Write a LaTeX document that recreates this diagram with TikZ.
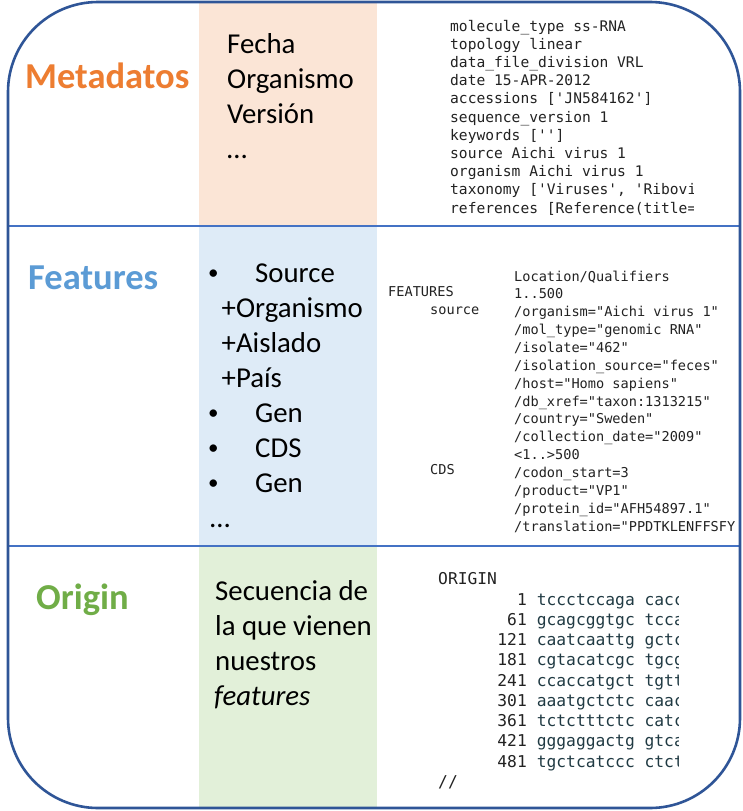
\documentclass[tikz,border=0pt]{standalone}
\usepackage{fontspec}
\setmainfont{Carlito}
\setmonofont{DejaVu Sans Mono}
\definecolor{outerblue}{HTML}{2F5597}
\definecolor{divblue}{HTML}{4472C4}
\definecolor{peach}{HTML}{FBE5D6}
\definecolor{paleblue}{HTML}{DEEBF7}
\definecolor{palegreen}{HTML}{E2F0D9}
\definecolor{lorange}{HTML}{ED7D31}
\definecolor{lblue}{HTML}{5B9BD5}
\definecolor{lgreen}{HTML}{70AD47}
\definecolor{seqcol}{HTML}{203A43}
\definecolor{monotext}{HTML}{222222}
\begin{document}
\begin{tikzpicture}[x=1pt,y=-1pt,
  lbl/.style={font=\bfseries\fontsize{36.5}{40}\selectfont, anchor=base west, inner sep=0},
  body/.style={font=\fontsize{28.8}{35}\selectfont, anchor=base west, inner sep=0},
  bul/.style={font=\fontsize{21}{25}\selectfont, anchor=base west, inner sep=0},
  monoA/.style={font=\ttfamily\fontsize{14.6}{18}\selectfont, text=monotext, anchor=base west, inner sep=0},
  monoB/.style={font=\ttfamily\fontsize{13.6}{17}\selectfont, text=monotext, anchor=base west, inner sep=0},
  monoC/.style={font=\ttfamily\fontsize{16.28}{20}\selectfont, text=monotext, anchor=base west, inner sep=0},
  seqC/.style={monoC, text=seqcol},
  numC/.style={monoC, anchor=base east},
  divider/.style={draw=divblue, line width=2.6pt},
  outer/.style={draw=outerblue, line width=2.6pt, rounded corners=90pt}]
\useasboundingbox (0,0) rectangle (743,811);
\fill[white] (0,0) rectangle (743,811);
% column fills
\fill[peach] (199,3) rectangle (377,226);
\fill[paleblue] (199,226) rectangle (377,546);
\fill[palegreen] (199,546) rectangle (377,807);
% dividers
\draw[divider] (8,226) -- (740,226);
\draw[divider] (8,546) -- (740,546);
% outer frame
\draw[outer] (8,2) rectangle (740,808);

% section labels
\node[lbl, text=lorange] (lmeta) at (25,88.5) {Metadatos};
\node[lbl, text=lblue] (lfeat) at (28,289) {Features};
\node[lbl, text=lgreen] (lorig) at (36,609) {Origin};

% metadata column
\node[body] (m1) at (227,53.5) {Fecha};
\node[body] (m2) at (227,88.5) {Organismo};
\node[body] (m3) at (227,123.5) {Versión};
\node[body] (m4) at (227,158.5) {…};

% features column
\node[bul] (b1) at (207.8,279.5) {•};
\node[body] (f1) at (255,282) {Source};
\node[body] (f2) at (221.5,317) {+Organismo};
\node[body] (f3) at (221.5,352) {+Aislado};
\node[body] (f4) at (221.5,387) {+País};
\node[bul] (b2) at (207.8,419.5) {•};
\node[body] (f5) at (255,422) {Gen};
\node[bul] (b3) at (207.8,454.5) {•};
\node[body] (f6) at (255,457) {CDS};
\node[bul] (b4) at (207.8,489.5) {•};
\node[body] (f7) at (255,492) {Gen};
\node[body] (f8) at (210,527) {…};

% origin column
\node[body] (o1) at (215,600) {Secuencia de};
\node[body] (o2) at (215,635) {la que vienen};
\node[body] (o3) at (215,670) {nuestros};
\node[body] (o4) at (214,705) {\itshape features};

% metadata record
\begin{scope}
\clip (380,0) rectangle (693,226);
\node[monoA] (r1) at (450,31) {molecule\_type ss-RNA};
\node[monoA] (r2) at (450,49.2) {topology linear};
\node[monoA] (r3) at (450,67.4) {data\_file\_division VRL};
\node[monoA] (r4) at (450,85.6) {date 15-APR-2012};
\node[monoA] (r5) at (450,103.8) {accessions ['JN584162']};
\node[monoA] (r6) at (450,122) {sequence\_version 1};
\node[monoA] (r7) at (450,140.2) {keywords ['']};
\node[monoA] (r8) at (450,158.4) {source Aichi virus 1};
\node[monoA] (r9) at (450,176.6) {organism Aichi virus 1};
\node[monoA] (r10) at (450,194.8) {taxonomy ['Viruses', 'Riboviria']};
\node[monoA] (r11) at (450,213) {references [Reference(title=};
\end{scope}

% features record
\begin{scope}
\clip (380,228) rectangle (739,545);
\node[monoB] (k1) at (388,296) {FEATURES};
\node[monoB] (k2) at (430,314) {source};
\node[monoB] (k3) at (430,474) {CDS};
\node[monoB] (q0) at (514,281) {Location/Qualifiers};
\node[monoB] (q1) at (514,298.86) {1..500};
\node[monoB] (q2) at (514,316.72) {/organism="Aichi virus 1"};
\node[monoB] (q3) at (514,334.58) {/mol\_type="genomic RNA"};
\node[monoB] (q4) at (514,352.44) {/isolate="462"};
\node[monoB] (q5) at (514,370.3) {/isolation\_source="feces"};
\node[monoB] (q6) at (514,388.16) {/host="Homo sapiens"};
\node[monoB] (q7) at (514,406.02) {/db\_xref="taxon:1313215"};
\node[monoB] (q8) at (514,423.88) {/country="Sweden"};
\node[monoB] (q9) at (514,441.74) {/collection\_date="2009"};
\node[monoB] (q10) at (514,459.6) {<1..>500};
\node[monoB] (q11) at (514,477.46) {/codon\_start=3};
\node[monoB] (q12) at (514,495.32) {/product="VP1"};
\node[monoB] (q13) at (514,513.18) {/protein\_id="AFH54897.1"};
\node[monoB] (q14) at (514,531) {/translation="PPDTKLENFFSFY};
\end{scope}

% origin record
\begin{scope}
\clip (380,548) rectangle (678,806);
\node[monoC] (g0) at (438,584.5) {ORIGIN};
\node[numC] (n1) at (527,605) {1};
\node[seqC] (s1) at (536.6,605) {tccctccaga cacc};
\node[numC] (n2) at (527,625.25) {61};
\node[seqC] (s2) at (536.6,625.25) {gcagcggtgc tcca};
\node[numC] (n3) at (527,645.5) {121};
\node[seqC] (s3) at (536.6,645.5) {caatcaattg gctc};
\node[numC] (n4) at (527,665.75) {181};
\node[seqC] (s4) at (536.6,665.75) {cgtacatcgc tgcg};
\node[numC] (n5) at (527,686) {241};
\node[seqC] (s5) at (536.6,686) {ccaccatgct tgtt};
\node[numC] (n6) at (527,706.25) {301};
\node[seqC] (s6) at (536.6,706.25) {aaatgctctc caac};
\node[numC] (n7) at (527,726.5) {361};
\node[seqC] (s7) at (536.6,726.5) {tctctttctc catc};
\node[numC] (n8) at (527,746.75) {421};
\node[seqC] (s8) at (536.6,746.75) {gggaggactg gtca};
\node[numC] (n9) at (527,767) {481};
\node[seqC] (s9) at (536.6,767) {tgctcatccc ctct};
\node[monoC] (g10) at (438,787.25) {//};
\end{scope}
\end{tikzpicture}
\end{document}
